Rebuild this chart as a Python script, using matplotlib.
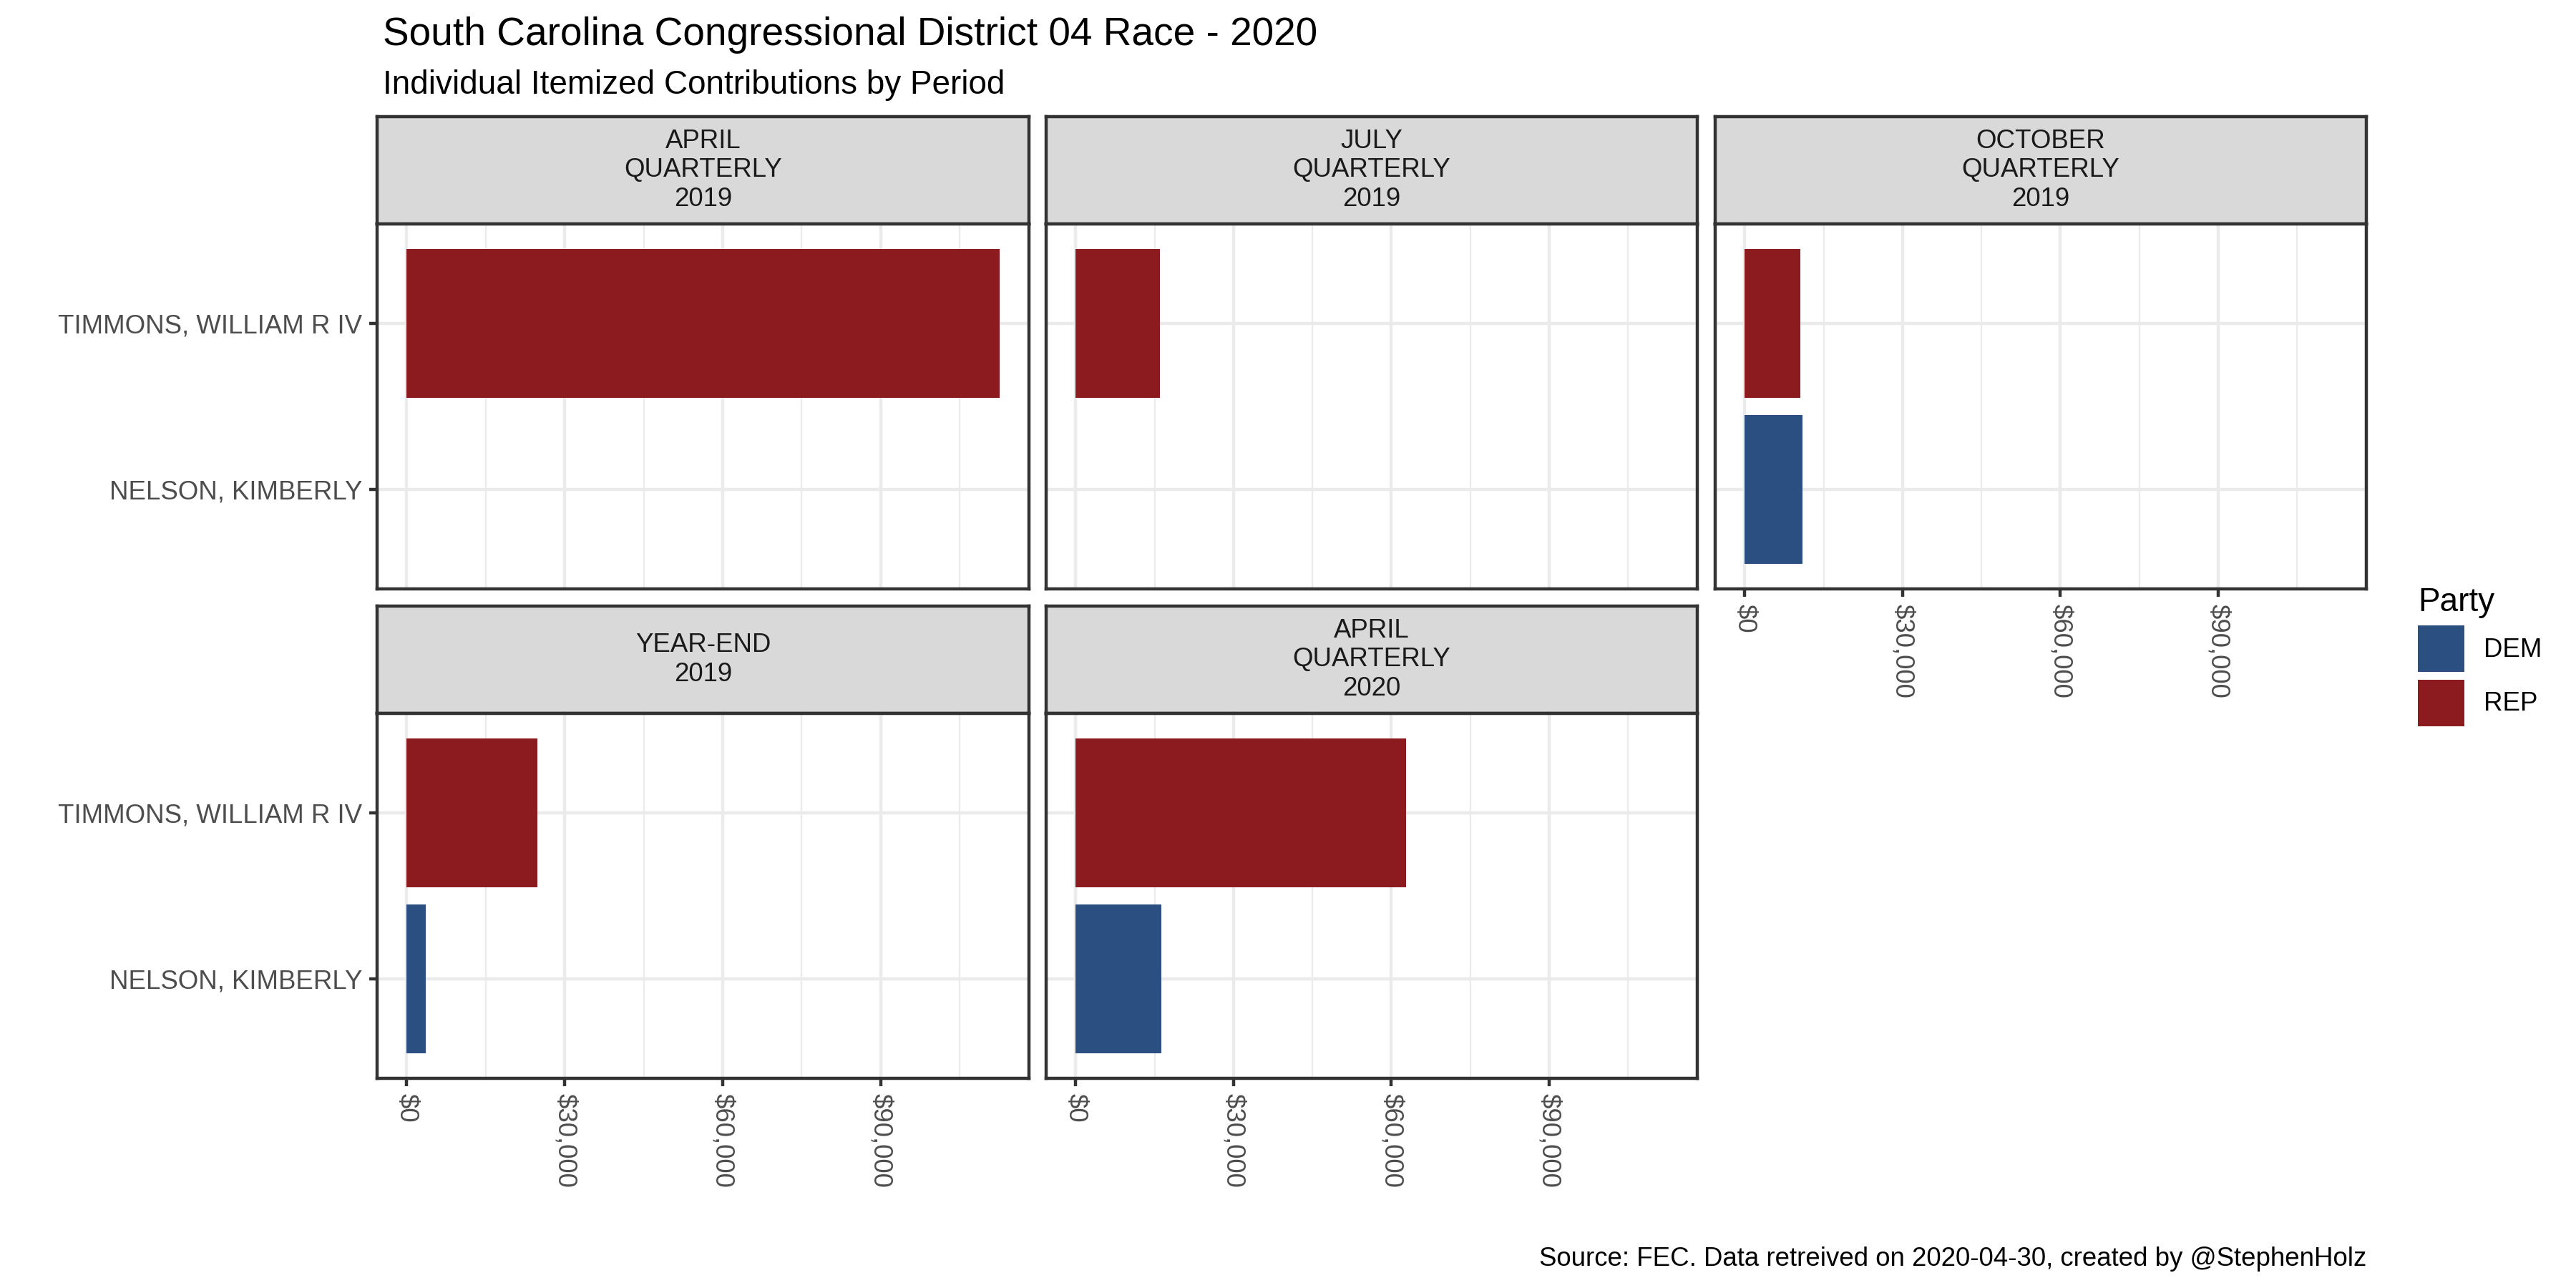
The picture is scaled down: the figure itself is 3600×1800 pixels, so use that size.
import numpy as np
import matplotlib
matplotlib.use("Agg")
import matplotlib.pyplot as plt
from matplotlib.patches import Patch
from matplotlib.ticker import FuncFormatter, FixedLocator

plt.rcParams['font.family'] = ['Liberation Sans', 'DejaVu Sans']

# data
periods = ["APRIL\nQUARTERLY\n2019", "JULY\nQUARTERLY\n2019", "OCTOBER\nQUARTERLY\n2019",
           "YEAR-END\n2019", "APRIL\nQUARTERLY\n2020"]
candidates = ["NELSON, KIMBERLY", "TIMMONS, WILLIAM R IV"]
parties = ["DEM", "REP"]
nelson = [None, None, 11030, 3640, 16300]
timmons = [112530, 16030, 10610, 24860, 62860]

party_colors = {"DEM": "#2C4F81", "REP": "#8B1B1E"}
x_major = [0, 30000, 60000, 90000]
x_minor = [15000, 45000, 75000, 105000]

GRID = "#EBEBEB"
DARK = "#333333"
TXT = "#4D4D4D"

fig = plt.figure(figsize=(12, 6), dpi=300)
W, H = 3600, 1800


def box(x0, y0, x1, y1):
    return [x0 / W, 1 - y1 / H, (x1 - x0) / W, (y1 - y0) / H]


cols = [(527, 1438), (1462, 2372), (2397, 3307)]
rows = [(163, 313, 823), (847, 997, 1507)]
places = [(0, 0), (0, 1), (0, 2), (1, 0), (1, 1)]
show_x = [False, False, True, True, True]

xmax = max(timmons + [v for v in nelson if v is not None])
pad = 0.05 * xmax

for i, period in enumerate(periods):
    r, c = places[i]
    x0, x1 = cols[c]
    st, sb, pb = rows[r]

    # strip
    sax = fig.add_axes(box(x0, st, x1, sb))
    sax.set_facecolor("#D9D9D9")
    sax.set_xticks([])
    sax.set_yticks([])
    for s in sax.spines.values():
        s.set_color(DARK)
        s.set_linewidth(1.07)
    sax.text(0.5, 0.5, period, ha="center", va="center", fontsize=8.8,
             color="#1A1A1A", linespacing=1.22, transform=sax.transAxes)

    # panel
    ax = fig.add_axes(box(x0, sb, x1, pb))
    vals = [nelson[i], timmons[i]]
    for k, (cand, v) in enumerate(zip(candidates, vals)):
        if v is None:
            continue
        ax.barh(k + 1, v, height=0.9, color=party_colors[parties[k]], zorder=3)

    ax.set_xlim(-pad, xmax + pad)
    ax.set_ylim(0.4, 2.6)
    ax.xaxis.set_major_locator(FixedLocator(x_major))
    ax.xaxis.set_minor_locator(FixedLocator(x_minor))
    ax.xaxis.set_major_formatter(FuncFormatter(lambda v, p: "${:,.0f}".format(v)))
    ax.set_yticks([1, 2])
    ax.set_yticklabels(candidates)

    ax.grid(True, which="major", color=GRID, linewidth=1.07, zorder=0)
    ax.grid(True, which="minor", axis="x", color=GRID, linewidth=0.53, zorder=0)
    ax.set_axisbelow(True)

    ax.tick_params(axis="x", which="minor", length=0)
    ax.tick_params(axis="x", which="major", bottom=show_x[i], labelbottom=show_x[i],
                   length=2.75, width=1.07, color=DARK, labelsize=8.8,
                   labelcolor=TXT, labelrotation=-90, pad=2.2)
    ax.tick_params(axis="y", left=(c == 0), labelleft=(c == 0), length=2.75,
                   width=1.07, color=DARK, labelsize=8.8, labelcolor=TXT, pad=2.2)
    for s in ax.spines.values():
        s.set_color(DARK)
        s.set_linewidth(1.07)

# titles
fig.text(535 / W, 1 - 63 / H, "South Carolina Congressional District 04 Race - 2020",
         fontsize=13.2, va="baseline", ha="left")
fig.text(535 / W, 1 - 131 / H, "Individual Itemized Contributions by Period",
         fontsize=11, va="baseline", ha="left")
fig.text(3307 / W, 1 - 1769 / H,
         "Source: FEC. Data retreived on 2020-04-30, created by @StephenHolz",
         fontsize=8.8, va="baseline", ha="right")

# legend
handles = [Patch(facecolor=party_colors[p], edgecolor="none") for p in parties]
leg = fig.legend(handles, parties, title="Party", loc="upper left",
                 bbox_to_anchor=(3379 / W, 1 - 820 / H), frameon=False,
                 fontsize=8.8, title_fontsize=11, handlelength=1.77,
                 handleheight=2.35, labelspacing=0.28, handletextpad=0.74,
                 borderpad=0, borderaxespad=0)
leg._legend_box.align = "left"

fig.savefig("out.png", dpi=300)
